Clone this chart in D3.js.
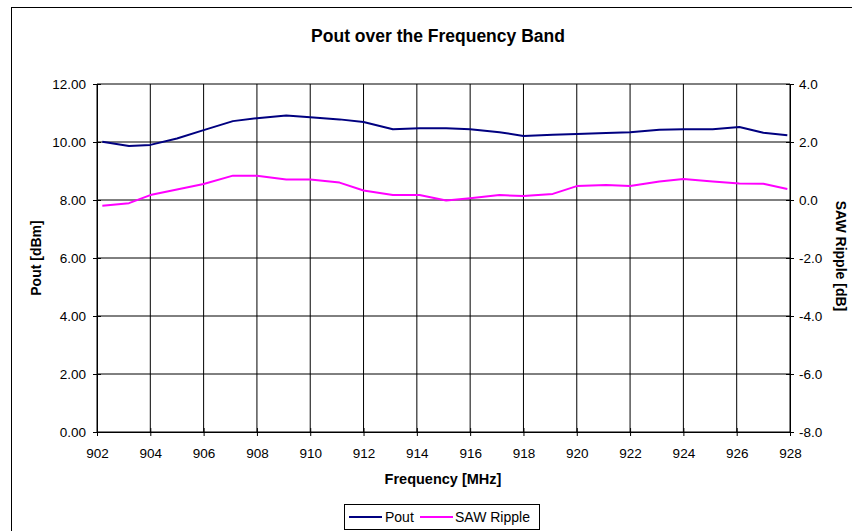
<!DOCTYPE html>
<html><head><meta charset="utf-8">
<script src="https://cdn.jsdelivr.net/npm/d3@7"></script>
<style>
html,body{margin:0;padding:0;background:#fff;}
svg{display:block;font-family:"Liberation Sans",Arial,sans-serif;}
</style></head>
<body>
<svg id="chart" width="852" height="531"></svg>
<script>
// ---- data ----
const freqs = [902.2, 903.2, 904.0, 905.0, 906.0, 907.1, 908.0, 909.1, 910.0, 911.1, 912.0, 913.1, 914.1,
               915.1, 916.0, 917.1, 918.0, 919.1, 920.0, 921.1, 922.0, 923.1, 924.0, 925.1, 926.1, 927.0, 927.9];
const pout = [10.01, 9.86, 9.90, 10.12, 10.41, 10.72, 10.82, 10.91, 10.85, 10.78, 10.69, 10.44, 10.47,
              10.47, 10.44, 10.34, 10.21, 10.25, 10.28, 10.31, 10.34, 10.42, 10.44, 10.44, 10.52, 10.32, 10.23];
const sawRipple = [-0.20, -0.11, 0.17, 0.36, 0.55, 0.84, 0.84, 0.71, 0.71, 0.60, 0.33, 0.17, 0.17,
                   -0.02, 0.06, 0.17, 0.14, 0.21, 0.48, 0.52, 0.48, 0.64, 0.72, 0.64, 0.57, 0.56, 0.38];
const xTicks = [902, 904, 906, 908, 910, 912, 914, 916, 918, 920, 922, 924, 926, 928];
const yLeftTicks = [0, 2, 4, 6, 8, 10, 12];
const yRightTicks = [-8, -6, -4, -2, 0, 2, 4];
const seriesNames = ["Pout", "SAW Ripple"];
const seriesColors = ["#000080", "#FF00FF"];

const svg = d3.select("#chart");
const L = 97, R = 790, T = 84, B = 432;

const x = d3.scaleLinear().domain([902, 928]).range([L, R]);
const yL = d3.scaleLinear().domain([0, 12]).range([B, T]);
const yR = d3.scaleLinear().domain([-8, 4]).range([B, T]);

// outer border
svg.append("rect").attr("x", 11.5).attr("y", 7.5).attr("width", 900).attr("height", 600)
  .attr("fill", "none").attr("stroke", "#000").attr("stroke-width", 1);

// gridlines
const grid = svg.append("g");
grid.selectAll("line.h").data(yLeftTicks).join("line")
  .attr("x1", L).attr("x2", R).attr("y1", d => yL(d)).attr("y2", d => yL(d))
  .attr("stroke", "#000").attr("stroke-width", 1);
grid.selectAll("line.v").data(xTicks).join("line")
  .attr("y1", T).attr("y2", B).attr("x1", d => x(d)).attr("x2", d => x(d))
  .attr("stroke", "#000").attr("stroke-width", 1);

// axes
const fs = 13.5;
const axL = svg.append("g").attr("transform", `translate(${L},0)`)
  .call(d3.axisLeft(yL).tickValues(yLeftTicks).tickFormat(d3.format(".2f")).tickSizeInner(4).tickSizeOuter(0).tickPadding(7));
const axR = svg.append("g").attr("transform", `translate(${R},0)`)
  .call(d3.axisRight(yR).tickValues(yRightTicks).tickFormat(d3.format(".1f")).tickSizeInner(4).tickSizeOuter(0).tickPadding(5));
const axB = svg.append("g").attr("transform", `translate(0,${B})`)
  .call(d3.axisBottom(x).tickValues(xTicks).tickFormat(d3.format("d")).tickSizeInner(4).tickSizeOuter(0).tickPadding(12));
[axL, axR, axB].forEach(a => {
  a.selectAll("path.domain").attr("stroke", "#000");
  a.selectAll("text").attr("font-size", fs).attr("fill", "#000").attr("font-family", "Liberation Sans, Arial, sans-serif");
  a.selectAll(".tick line").attr("stroke", "#000");
});
// crossing tick marks
axL.selectAll(".tick line").attr("x1", 4).attr("x2", -4);
axR.selectAll(".tick line").attr("x1", -4).attr("x2", 4);
axB.selectAll(".tick line").attr("y1", -4).attr("y2", 4);
axR.selectAll("text").text(d => d3.format(".1f")(d).replace("−", "-"));

// lines
const linePout = d3.line().x((d, i) => x(freqs[i])).y(d => yL(d));
const lineSaw = d3.line().x((d, i) => x(freqs[i])).y(d => yR(d));
svg.append("path").datum(pout).attr("d", linePout).attr("fill", "none")
  .attr("stroke", seriesColors[0]).attr("stroke-width", 2).attr("stroke-linejoin", "round");
svg.append("path").datum(sawRipple).attr("d", lineSaw).attr("fill", "none")
  .attr("stroke", seriesColors[1]).attr("stroke-width", 2).attr("stroke-linejoin", "round");

// titles
svg.append("text").attr("x", 438).attr("y", 42).attr("text-anchor", "middle")
  .attr("font-size", 17.5).attr("font-weight", "bold").text("Pout over the Frequency Band");
svg.append("text").attr("x", 443).attr("y", 484).attr("text-anchor", "middle")
  .attr("font-size", 14.5).attr("font-weight", "bold").text("Frequency [MHz]");
svg.append("text").attr("transform", `translate(41,258) rotate(-90)`).attr("text-anchor", "middle")
  .attr("font-size", 14).attr("font-weight", "bold").text("Pout [dBm]");
svg.append("text").attr("transform", `translate(836,256) rotate(90)`).attr("text-anchor", "middle")
  .attr("font-size", 14).attr("font-weight", "bold").text("SAW Ripple [dB]");

// legend
const lg = svg.append("g");
lg.append("rect").attr("x", 344.5).attr("y", 504.5).attr("width", 195).attr("height", 25)
  .attr("fill", "#fff").attr("stroke", "#000").attr("stroke-width", 1);
const items = [{x: 349, tx: 385}, {x: 420, tx: 455}];
items.forEach((it, i) => {
  lg.append("line").attr("x1", it.x).attr("x2", it.x + 33).attr("y1", 517).attr("y2", 517)
    .attr("stroke", seriesColors[i]).attr("stroke-width", 2);
  lg.append("text").attr("x", it.tx).attr("y", 522).attr("font-size", 14).text(seriesNames[i]);
});
</script>
</body></html>
